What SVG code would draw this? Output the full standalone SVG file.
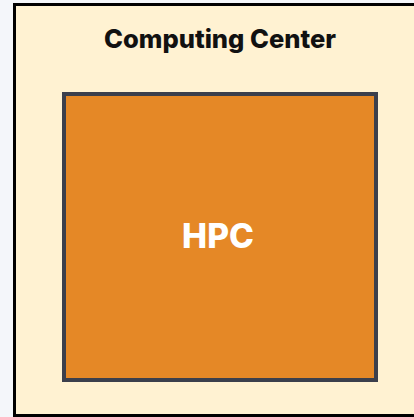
<svg xmlns="http://www.w3.org/2000/svg" width="414" height="417" viewBox="0 0 414 417">
  <style>
    .title { font-family: Inter, "Liberation Sans", sans-serif; font-weight: 800; fill: #111111; }
    .label { font-family: Inter, "Liberation Sans", sans-serif; font-weight: 800; fill: #ffffff; }
  </style>
  <rect x="0" y="0" width="414" height="417" fill="#f4f6fa"/>
  <g id="computing-center">
    <rect x="14.5" y="4.5" width="412" height="411" fill="#fff2d2" stroke="#000000" stroke-width="3"/>
    <text class="title" x="220" y="48" font-size="25.5" text-anchor="middle">Computing Center</text>
  </g>
  <g id="hpc">
    <rect x="64" y="94" width="312" height="286" fill="#e58826" stroke="#3b3f4c" stroke-width="4"/>
    <text class="label" x="218" y="248" font-size="33.5" text-anchor="middle">HPC</text>
  </g>
  <g id="connectors"/>
</svg>
